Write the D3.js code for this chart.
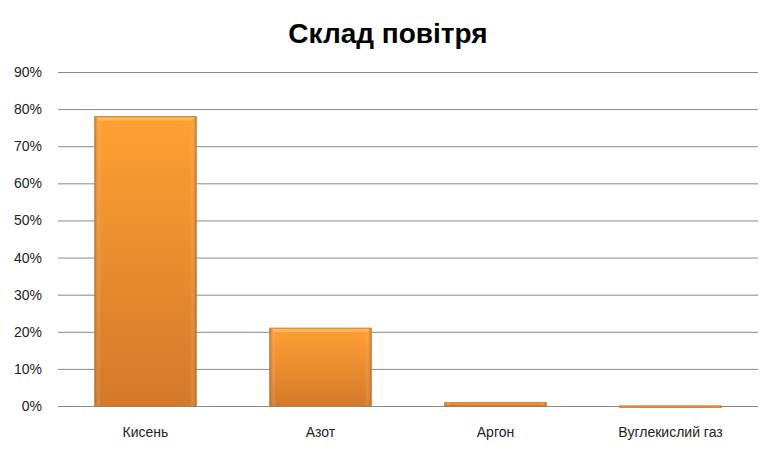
<!DOCTYPE html>
<html><head><meta charset="utf-8">
<script src="https://d3js.org/d3.v7.min.js"></script>
<style>body{margin:0;background:#fff}</style></head>
<body><svg id="c" width="776" height="449"></svg>
<script>
const categories = ["Кисень","Азот","Аргон","Вуглекислий газ"];
const values = [0.78, 0.21, 0.0093, 0.0004];
const ticks = [0,0.1,0.2,0.3,0.4,0.5,0.6,0.7,0.8,0.9];
const svg = d3.select("#c");
const x = d3.scaleBand().domain(categories).range([58,758]).paddingInner(0.42).paddingOuter(0.21);
const y = d3.scaleLinear().domain([0,0.9]).range([406,72]);
const defs = svg.append("defs");
const g = defs.append("linearGradient").attr("id","bg").attr("x1",0).attr("y1",0).attr("x2",0).attr("y2",1);
g.append("stop").attr("offset","0%").attr("stop-color","#FFA033");
g.append("stop").attr("offset","100%").attr("stop-color","#D4792A");
const h = defs.append("linearGradient").attr("id","hg").attr("x1",0).attr("y1",0).attr("x2",1).attr("y2",0);
h.append("stop").attr("offset","0%").attr("stop-color","#a85a18").attr("stop-opacity",0.5);
h.append("stop").attr("offset","6%").attr("stop-color","#fff").attr("stop-opacity",0);
h.append("stop").attr("offset","94%").attr("stop-color","#fff").attr("stop-opacity",0);
h.append("stop").attr("offset","100%").attr("stop-color","#a85a18").attr("stop-opacity",0.5);
svg.append("text").attr("x",388).attr("y",43).attr("text-anchor","middle")
  .attr("font-family","Liberation Sans, Arial").attr("font-weight","bold").attr("font-size",28).text("Склад повітря");
svg.append("g").selectAll("line").data(ticks).join("line")
  .attr("x1",58).attr("x2",758).attr("y1",d=>y(d)+0.5).attr("y2",d=>y(d)+0.5)
  .attr("stroke","#888").attr("stroke-width",1);
svg.append("g").selectAll("text").data(ticks).join("text")
  .attr("x",42).attr("y",d=>y(d)+5).attr("text-anchor","end")
  .attr("font-family","Liberation Sans, Arial").attr("font-size",14).attr("fill","#222")
  .text(d3.format(".0%"));
const bars = svg.append("g").selectAll("g").data(categories).join("g");
bars.append("rect").attr("x",d=>x(d)).attr("width",x.bandwidth())
  .attr("y",(d,i)=>y(values[i])).attr("height",(d,i)=>Math.max(1.5,y(0)-y(values[i])))
  .attr("fill","url(#bg)").attr("stroke","#c77424").attr("stroke-width",0.8);
bars.append("rect").attr("x",d=>x(d)).attr("width",x.bandwidth())
  .attr("y",(d,i)=>y(values[i])).attr("height",(d,i)=>Math.max(1.5,y(0)-y(values[i])))
  .attr("fill","url(#hg)");
bars.filter((d,i)=>values[i]>0.05).append("rect").attr("x",d=>x(d)+3).attr("width",x.bandwidth()-6)
  .attr("y",(d,i)=>y(values[i])+1).attr("height",3).attr("fill","#ffc070").attr("opacity",0.7);
svg.append("g").selectAll("text").data(categories).join("text")
  .attr("x",d=>x(d)+x.bandwidth()/2).attr("y",437).attr("text-anchor","middle")
  .attr("font-family","Liberation Sans, Arial").attr("font-size",14).attr("fill","#222").text(d=>d);
</script></body></html>
